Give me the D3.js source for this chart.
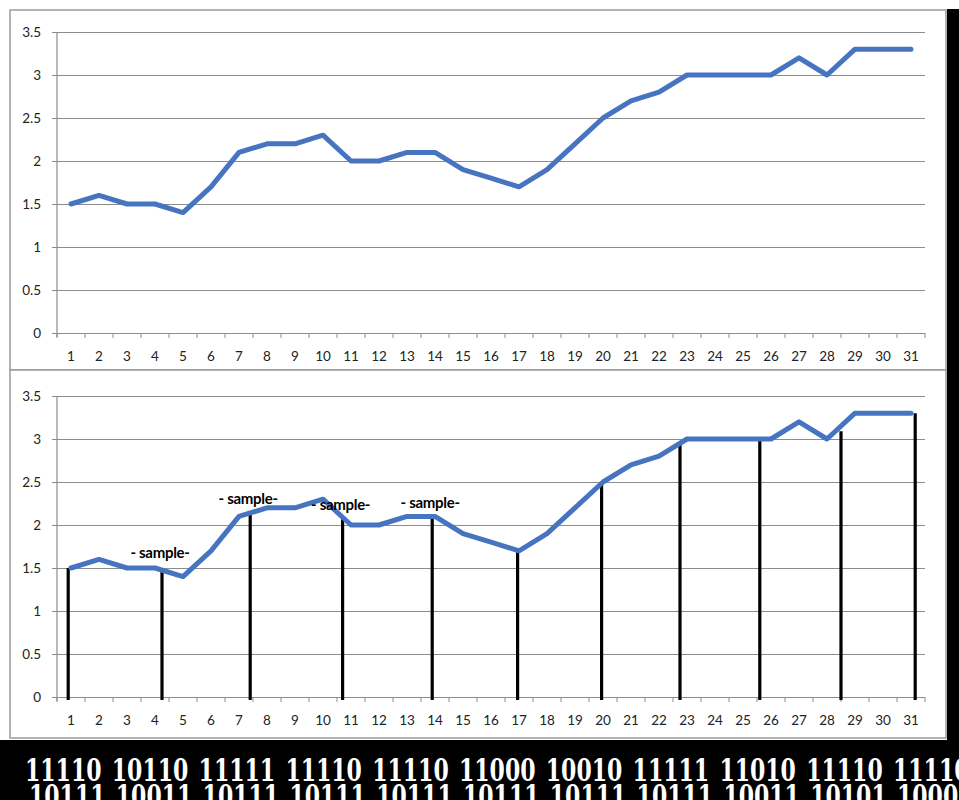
<!DOCTYPE html>
<html>
<head>
<meta charset="utf-8">
<script src="https://cdn.jsdelivr.net/npm/d3@7/dist/d3.min.js"></script>
<style>
  body { margin: 0; background: #fff; }
  svg { display: block; }
</style>
</head>
<body>
<svg id="chart" width="959" height="800"></svg>
<script>
// categories (days) and the series shown in both panels
const days = [1,2,3,4,5,6,7,8,9,10,11,12,13,14,15,16,17,18,19,20,21,22,23,24,25,26,27,28,29,30,31];
const values = [1.5,1.6,1.5,1.5,1.4,1.7,2.1,2.2,2.2,2.3,2.0,2.0,2.1,2.1,1.9,1.8,1.7,1.9,2.2,2.5,2.7,2.8,3.0,3.0,3.0,3.0,3.2,3.0,3.3,3.3,3.3];
const yTicks = [0, 0.5, 1, 1.5, 2, 2.5, 3, 3.5];

// sampling instants (in day units) and the sampled value
const sampleTimes  = [0.9, 4.25, 7.4, 10.7, 13.9, 16.95, 19.95, 22.75, 25.6, 28.5, 31.15];
const sampleValues = [1.5, 1.47, 2.14, 2.07, 2.09, 1.7, 2.48, 2.94, 2.98, 3.09, 3.3];
const sampleLabels = ["", "- sample-", "- sample-", "- sample-", "- sample-", "", "", "", "", "", ""];

// binary strip at the bottom
const binaryRow1 = ["11110","10110","11111","11110","11110","11000","10010","11111","11010","11110","11110"];
const binaryRow2 = ["10111","10011","10111","10111","10111","10111","10111","10111","10011","10101","10001"];

const svg = d3.select("#chart");
const font = "Lato, 'Open Sans', sans-serif";

// frame of the two panels
svg.append("rect")
    .attr("x", 10).attr("y", 10).attr("width", 936).attr("height", 360)
    .attr("fill", "#fff").attr("stroke", "#9a9a9a").attr("stroke-width", 1.5);
svg.append("rect")
    .attr("x", 10).attr("y", 370).attr("width", 936).attr("height", 368)
    .attr("fill", "#fff").attr("stroke", "#9a9a9a").attr("stroke-width", 1.5);

// black edges
svg.append("rect").attr("x", 947).attr("y", 9).attr("width", 12).attr("height", 731).attr("fill", "#000");
svg.append("rect").attr("x", 0).attr("y", 740).attr("width", 959).attr("height", 60).attr("fill", "#000");

const x = d3.scaleBand().domain(days).range([57, 925]).paddingInner(0).paddingOuter(0);
const xLin = d3.scaleLinear().domain([0.5, 31.5]).range([57, 925]);

function drawPanel(offsetY, withSamples) {
    const g = svg.append("g").attr("transform", `translate(0,${offsetY})`);
    const y = d3.scaleLinear().domain([0, 3.5]).range([333, 32]);

    // gridlines + y labels
    const yAxis = d3.axisLeft(y).tickValues(yTicks).tickSize(-(925 - 52)).tickPadding(10)
        .tickFormat(d => d3.format("")(d));
    g.append("g")
        .attr("transform", "translate(52,0)")
        .call(yAxis)
        .call(a => a.select(".domain").remove())
        .call(a => a.selectAll(".tick line").attr("stroke", "#8c8c8c").attr("stroke-width", 1.2))
        .call(a => a.selectAll(".tick text").attr("x", -11)
            .attr("fill", "#222").style("font", `13.5px ${font}`));

    // y axis line
    g.append("line")
        .attr("x1", 57).attr("x2", 57).attr("y1", y(3.5)).attr("y2", y(0) + 4)
        .attr("stroke", "#8c8c8c").attr("stroke-width", 1.2);

    // x axis: labels centred on bands, ticks between categories
    const xAxis = d3.axisBottom(x).tickSize(0).tickPadding(18);
    g.append("g")
        .attr("transform", `translate(0,${y(0)})`)
        .call(xAxis)
        .call(a => a.select(".domain").remove())
        .call(a => a.selectAll(".tick text").attr("fill", "#222").style("font", `13.5px ${font}`));

    g.append("g").selectAll("line")
        .data(d3.range(0, days.length + 1))
        .join("line")
        .attr("x1", i => xLin(i + 0.5)).attr("x2", i => xLin(i + 0.5))
        .attr("y1", y(0)).attr("y2", y(0) + 5)
        .attr("stroke", "#8c8c8c").attr("stroke-width", 1);

    // sample stems go under the series line
    if (withSamples) {
        g.append("g").selectAll("line")
            .data(sampleTimes)
            .join("line")
            .attr("x1", d => xLin(d)).attr("x2", d => xLin(d))
            .attr("y1", (d, i) => y(sampleValues[i]))
            .attr("y2", y(0) + 3)
            .attr("stroke", "#000").attr("stroke-width", 3.2);
    }

    const line = d3.line()
        .x((d, i) => x(days[i]) + x.bandwidth() / 2)
        .y(d => y(d));

    g.append("path")
        .datum(values)
        .attr("fill", "none")
        .attr("stroke", "#4674c1")
        .attr("stroke-width", 5)
        .attr("stroke-linejoin", "round")
        .attr("stroke-linecap", "round")
        .attr("d", line);

    if (withSamples) {
        g.append("g").selectAll("text")
            .data(sampleTimes.map((t, i) => ({t, v: sampleValues[i], label: sampleLabels[i]}))
                .filter(d => d.label))
            .join("text")
            .attr("x", d => xLin(d.t) - 2)
            .attr("y", (d, i) => y(d.v) - (i === 0 ? 13 : 9))
            .attr("text-anchor", "middle")
            .attr("fill", "#000")
            .attr("letter-spacing", -0.3)
            .style("font", `bold 15px ${font}`)
            .text(d => d.label);
    }
}

drawPanel(0, false);
drawPanel(364, true);

// binary strip: one word per slot, two rows (second row cut by the page edge)
const slot = d3.scalePoint().domain(d3.range(binaryRow1.length)).range([25, 893]);
const strip = svg.append("g")
    .style("font", "bold 22px 'DejaVu Serif', serif")
    .attr("fill", "#fff");
[binaryRow1, binaryRow2].forEach((row, r) => {
    strip.append("g").selectAll("text")
        .data(row)
        .join("text")
        .attr("transform", (d, i) => `translate(${slot(i) + (r ? 4 : 0)},${781 + r * 26}) scale(1,1.45)`)
        .text(d => d);
});
</script>
</body>
</html>
